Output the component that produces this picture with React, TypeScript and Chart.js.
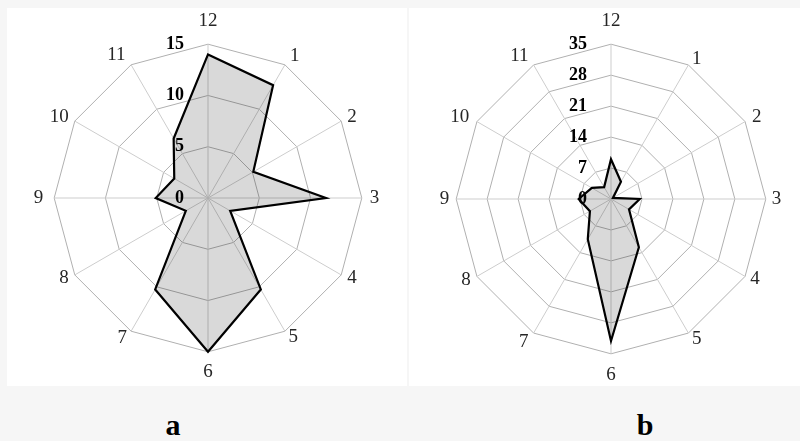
import React, { useEffect, useRef } from 'react';
import { Chart, registerables } from 'chart.js';

Chart.register(...registerables);

// ---- data ----
const hourLabels = ['12', '1', '2', '3', '4', '5', '6', '7', '8', '9', '10', '11'];
const seriesA = [14.0, 12.7, 5.1, 11.5, 2.5, 10.3, 15.0, 10.3, 2.5, 5.1, 3.8, 6.7];
const seriesB = [9.0, 4.5, 0.5, 6.5, 4.7, 12.6, 32.1, 10.5, 5.5, 7.3, 5.0, 3.1];
const ticksA = [0, 5, 10, 15];
const ticksB = [0, 7, 14, 21, 28, 35];
const panelLetters = ['a', 'b'];

// per-label distance between ring and label
const labelPadA = [23, 10, 7, 8, 7, 7, 20, 8, 7, 11, 7, 11];
const labelPadB = [23, 7, 8, 6, 6, 7, 21, 10, 7, 7, 9, 10];

const SERIF = '"Liberation Serif", "Times New Roman", serif';

const sideTicksPlugin = {
  id: 'sideTicks',
  afterDatasetsDraw(chart: any, _args: any, opts: any) {
    const scale = chart.scales.r;
    const ctx = chart.ctx;
    const values: number[] = opts.values || [];
    ctx.save();
    ctx.font = `bold 18px ${SERIF}`;
    ctx.fillStyle = '#000';
    ctx.textAlign = 'right';
    ctx.textBaseline = 'middle';
    for (const v of values) {
      const d = scale.getDistanceFromCenterForValue(v);
      ctx.fillText(String(v), scale.xCenter - 24, scale.yCenter - d);
    }
    ctx.restore();
  },
};

function RadarPanel(props: {
  values: number[];
  ticks: number[];
  pads: number[];
  left: number;
  padTop: number;
  padBottom: number;
}) {
  const ref = useRef<HTMLCanvasElement | null>(null);
  useEffect(() => {
    if (!ref.current) return;
    const max = props.ticks[props.ticks.length - 1];
    const step = props.ticks[1] - props.ticks[0];
    const chart = new Chart(ref.current, {
      type: 'radar',
      data: {
        labels: hourLabels,
        datasets: [
          {
            data: props.values,
            backgroundColor: 'rgba(0,0,0,0.15)',
            borderColor: '#000',
            borderWidth: 2.2,
            pointRadius: 0,
            pointHoverRadius: 0,
            fill: true,
          },
        ],
      },
      options: {
        responsive: false,
        animation: false,
        layout: { padding: { top: props.padTop, bottom: props.padBottom, left: 0, right: 0 } },
        plugins: {
          legend: { display: false },
          tooltip: { enabled: false },
          // @ts-ignore
          sideTicks: { values: props.ticks },
        },
        scales: {
          r: {
            min: 0,
            max: max,
            ticks: { display: false, stepSize: step },
            grid: { color: '#b0b0b0', lineWidth: 1 },
            angleLines: { color: '#cdcdcd', lineWidth: 1 },
            pointLabels: {
              color: '#262626',
              font: { family: SERIF, size: 19, lineHeight: 0.01 },
              padding: (c: any) => props.pads[c.index],
            },
          },
        },
      },
      plugins: [sideTicksPlugin],
    } as any);
    return () => chart.destroy();
  }, []);
  return (
    <canvas
      ref={ref}
      width={400}
      height={378}
      style={{ position: 'absolute', left: props.left, top: 8, width: 400, height: 378 }}
    />
  );
}

export default function App() {
  return (
    <div
      style={{
        position: 'fixed',
        left: 0,
        top: 0,
        width: 800,
        height: 441,
        overflow: 'hidden',
        background: '#f6f6f6',
      }}
    >
      <div style={{ position: 'absolute', left: 7, top: 8, width: 400, height: 378, background: '#fff' }} />
      <div style={{ position: 'absolute', left: 409, top: 8, width: 391, height: 378, background: '#fff' }} />
      <RadarPanel values={seriesA} ticks={ticksA} pads={labelPadA} left={8} padTop={12} padBottom={12} />
      <RadarPanel values={seriesB} ticks={ticksB} pads={labelPadB} left={411} padTop={12} padBottom={10} />
      {panelLetters.map((t, i) => (
        <div
          key={t}
          style={{
            position: 'absolute',
            left: i === 0 ? 143 : 615,
            top: 410,
            width: 60,
            textAlign: 'center',
            font: `bold 30px ${SERIF}`,
            lineHeight: '30px',
            color: '#000',
          }}
        >
          {t}
        </div>
      ))}
    </div>
  );
}
